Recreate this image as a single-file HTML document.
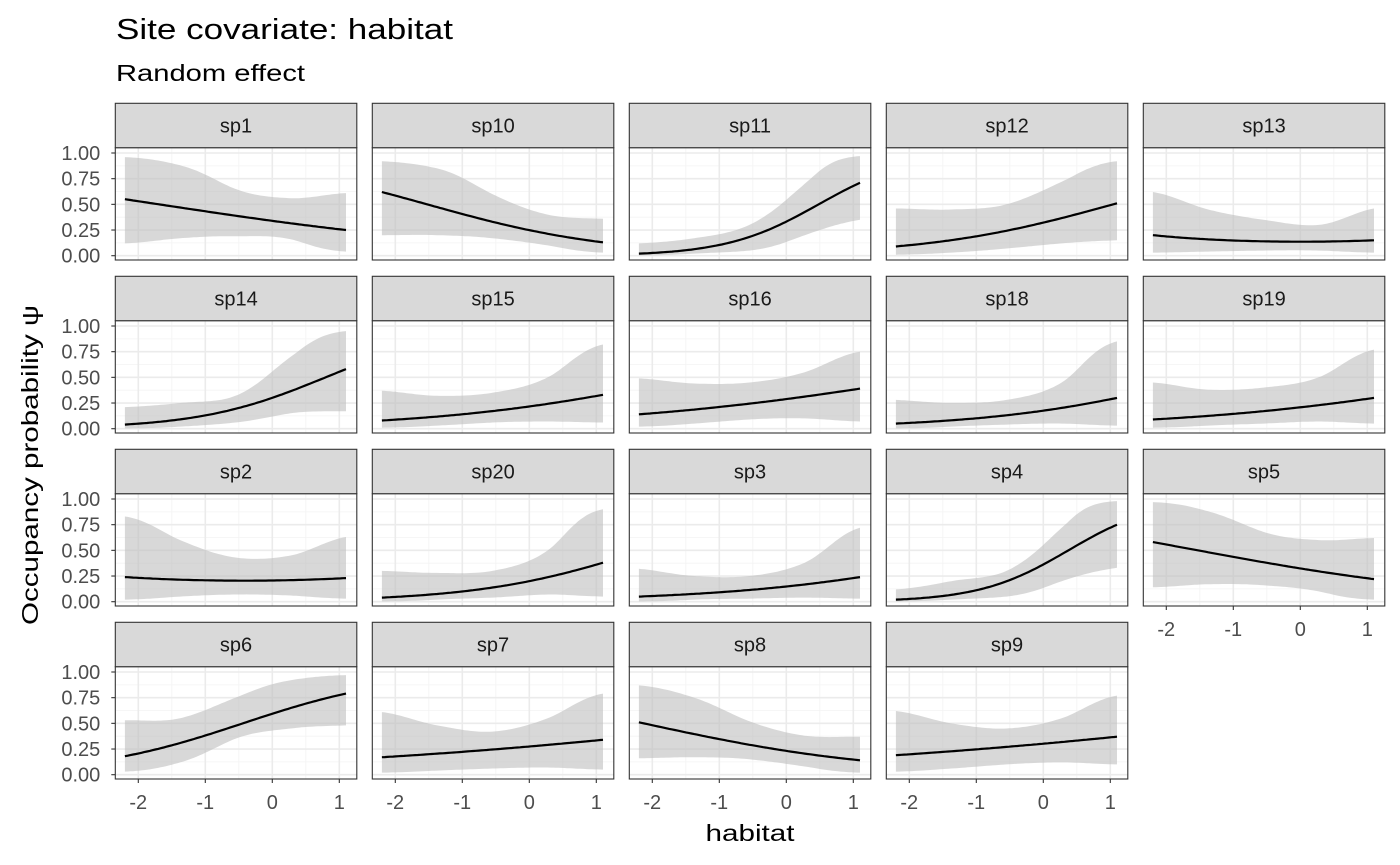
<!DOCTYPE html>
<html><head><meta charset="utf-8"><style>
html,body{margin:0;padding:0;background:#fff;}
svg{display:block;font-family:"Liberation Sans",Arial,sans-serif;}
</style></head><body>
<svg id="s" width="1400" height="865" xmlns="http://www.w3.org/2000/svg">
<text x="116" y="39" font-size="29" fill="#000" textLength="337" lengthAdjust="spacingAndGlyphs">Site covariate: habitat</text>
<text x="116" y="81" font-size="23" fill="#000" textLength="189" lengthAdjust="spacingAndGlyphs">Random effect</text>
<text x="750" y="841" font-size="23" text-anchor="middle" fill="#000" textLength="89" lengthAdjust="spacingAndGlyphs">habitat</text>
<text transform="translate(38,465) rotate(-90)" font-size="23" text-anchor="middle" fill="#000" textLength="320" lengthAdjust="spacingAndGlyphs">Occupancy probability  ψ</text>
</svg>
<script>
const S=document.getElementById('s');const NS='http://www.w3.org/2000/svg';
function el(t,a,txt){const e=document.createElementNS(NS,t);for(const k in a)e.setAttribute(k,a[k]);if(txt!==undefined)e.textContent=txt;S.appendChild(e);return e;}
const D=[
["sp1",[0.55,0.25],[0.96,0.88,0.65,0.56,0.61],[0.12,0.17,0.19,0.16,0.04]],
["sp10",[0.62,0.13],[0.92,0.85,0.6,0.4,0.36],[0.2,0.2,0.17,0.1,0.03]],
["sp11",[0.02,0.71],[0.12,0.17,0.3,0.7,0.97],[0.003,0.02,0.05,0.2,0.35]],
["sp12",[0.09,0.51],[0.46,0.45,0.5,0.72,0.92],[0.01,0.03,0.07,0.12,0.15]],
["sp13",[0.2,0.14,0.15],[0.62,0.45,0.35,0.3,0.46],[0.03,0.04,0.05,0.05,0.03]],
["sp14",[0.04,0.58],[0.21,0.25,0.32,0.7,0.95],[0.003,0.02,0.06,0.15,0.17]],
["sp15",[0.08,0.33],[0.37,0.32,0.35,0.5,0.82],[0.01,0.03,0.06,0.07,0.06]],
["sp16",[0.14,0.39],[0.49,0.44,0.45,0.55,0.75],[0.02,0.05,0.09,0.1,0.07]],
["sp18",[0.05,0.3],[0.28,0.25,0.28,0.45,0.85],[0.003,0.02,0.04,0.05,0.03]],
["sp19",[0.09,0.3],[0.45,0.38,0.4,0.5,0.77],[0.01,0.03,0.05,0.07,0.05]],
["sp2",[0.24,0.205,0.23],[0.83,0.6,0.43,0.45,0.63],[0.02,0.05,0.07,0.06,0.03]],
["sp20",[0.04,0.38],[0.3,0.28,0.3,0.5,0.9],[0.003,0.02,0.04,0.07,0.05]],
["sp3",[0.05,0.24],[0.32,0.25,0.25,0.38,0.72],[0.003,0.02,0.03,0.04,0.03]],
["sp4",[0.02,0.75],[0.12,0.2,0.3,0.72,0.98],[0.003,0.02,0.05,0.2,0.33]],
["sp5",[0.58,0.22],[0.97,0.88,0.68,0.6,0.62],[0.14,0.17,0.16,0.1,0.02]],
["sp6",[0.18,0.79],[0.53,0.55,0.75,0.92,0.97],[0.03,0.12,0.35,0.45,0.48]],
["sp7",[0.17,0.34],[0.61,0.48,0.42,0.55,0.79],[0.02,0.04,0.06,0.07,0.05]],
["sp8",[0.51,0.14],[0.87,0.75,0.52,0.38,0.37],[0.16,0.17,0.15,0.08,0.02]],
["sp9",[0.19,0.37],[0.62,0.5,0.45,0.55,0.77],[0.03,0.06,0.1,0.12,0.1]]];
const lg=p=>Math.log(p/(1-p)),il=z=>1/(1+Math.exp(-z));
const X0=-2.2,X1=1.1,N=80;
function band(v,x){const t=(x-X0)/(X1-X0)*4;let i=Math.min(3,Math.floor(t));const f=t-i;
const L=v.map(lg);const p0=L[Math.max(0,i-1)],p1=L[i],p2=L[i+1],p3=L[Math.min(4,i+2)];
const z=0.5*((2*p1)+(-p0+p2)*f+(2*p0-5*p1+4*p2-p3)*f*f+(-p0+3*p1-3*p2+p3)*f*f*f);return il(z);}
function mean(m,x){if(m.length==2){const a=lg(m[0]),b=lg(m[1]);const t=(x-X0)/(X1-X0);return il(a+(b-a)*t);}
const xs=[X0,-0.55,X1],ys=m.map(lg);let z=0;for(let i=0;i<3;i++){let l=1;for(let j=0;j<3;j++)if(j!=i)l*=(x-xs[j])/(xs[i]-xs[j]);z+=l*ys[i];}return il(z);}
D.forEach((d,k)=>{const r=Math.floor(k/5),c=k%5;const L=115.3+c*257,R=L+241.5,st=103.3+r*173,pt=147.7+r*173,pb=260+r*173;
const sx=x=>L+23+(x+2)*67, sy=y=>pb-4+(0-y)*102.7-0.3;
el('rect',{x:L,y:pt,width:R-L,height:pb-pt,fill:'#fff'});
[-1.5,-0.5,0.5].forEach(v=>el('line',{x1:sx(v),x2:sx(v),y1:pt,y2:pb,stroke:'#f3f3f3','stroke-width':0.8}));
[0.125,0.375,0.625,0.875].forEach(v=>el('line',{x1:L,x2:R,y1:sy(v),y2:sy(v),stroke:'#f3f3f3','stroke-width':0.8}));
[-2,-1,0,1].forEach(v=>el('line',{x1:sx(v),x2:sx(v),y1:pt,y2:pb,stroke:'#ebebeb','stroke-width':1.6}));
[0,0.25,0.5,0.75,1].forEach(v=>el('line',{x1:L,x2:R,y1:sy(v),y2:sy(v),stroke:'#ebebeb','stroke-width':1.6}));
let up=[],lo=[],mn=[];for(let i=0;i<=N;i++){const x=X0+(X1-X0)*i/N;up.push(sx(x).toFixed(1)+','+sy(band(d[2],x)).toFixed(1));lo.push(sx(x).toFixed(1)+','+sy(band(d[3],x)).toFixed(1));mn.push(sx(x).toFixed(1)+','+sy(mean(d[1],x)).toFixed(1));}
el('polygon',{points:up.concat(lo.reverse()).join(' '),fill:'#bebebe','fill-opacity':0.6});
el('polyline',{points:mn.join(' '),fill:'none',stroke:'#000','stroke-width':2.2});
el('rect',{x:L,y:pt,width:R-L,height:pb-pt,fill:'none',stroke:'#333','stroke-width':1.1});
el('rect',{x:L,y:st,width:R-L,height:pt-st,fill:'#d9d9d9',stroke:'#333','stroke-width':1.1});
el('text',{x:(L+R)/2,y:(st+pt)/2+7,'font-size':20,'text-anchor':'middle',fill:'#1a1a1a'},d[0]);
if(c==0){[0,0.25,0.5,0.75,1].forEach(v=>{el('line',{x1:L-4,x2:L,y1:sy(v),y2:sy(v),stroke:'#333','stroke-width':1.1});
el('text',{x:L-15,y:sy(v)+7,'font-size':20,'text-anchor':'end',fill:'#4d4d4d'},v.toFixed(2));});}
if(r==3||(r==2&&c==4)){[-2,-1,0,1].forEach(v=>{el('line',{x1:sx(v),x2:sx(v),y1:pb,y2:pb+4,stroke:'#333','stroke-width':1.1});
el('text',{x:sx(v),y:pb+30,'font-size':20,'text-anchor':'middle',fill:'#4d4d4d'},v<0?'-'+(-v):String(v));});}
});
</script>
</body></html>
